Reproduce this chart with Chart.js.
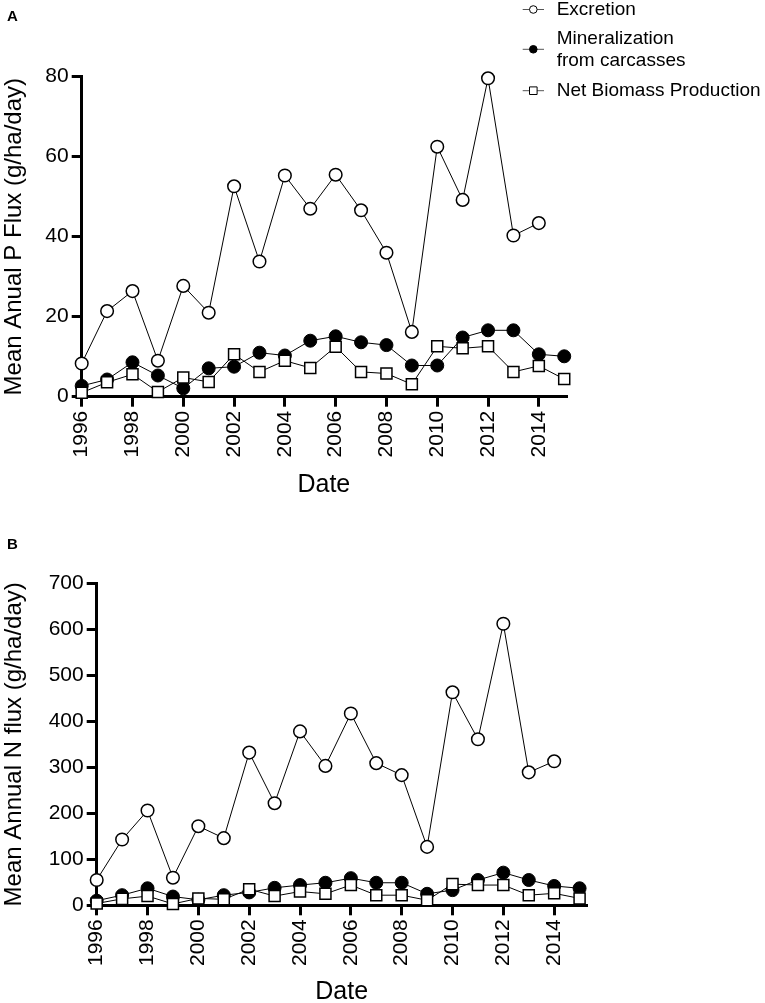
<!DOCTYPE html>
<html>
<head>
<meta charset="utf-8">
<script src="https://cdn.jsdelivr.net/npm/chart.js@4"></script>
<style>
  html, body { margin: 0; padding: 0; background: #fff; overflow: hidden; }
  canvas { position: absolute; left: 0; }
  #chartP { top: 0; }
  #chartN { top: 510px; }
</style>
</head>
<body>
<canvas id="chartP" width="765" height="510"></canvas>
<canvas id="chartN" width="765" height="520"></canvas>
<script>
// data
const years = [1996, 1997, 1998, 1999, 2000, 2001, 2002, 2003, 2004, 2005,
               2006, 2007, 2008, 2009, 2010, 2011, 2012, 2013, 2014, 2015];
const xTicks = [1996, 1998, 2000, 2002, 2004, 2006, 2008, 2010, 2012, 2014];

// panel A: phosphorus
const pExcretion = [8.3, 21.4, 26.4, 9.0, 27.7, 21.0, 52.6, 33.8, 55.3, 47.0,
                    55.5, 46.6, 36.0, 16.2, 62.5, 49.2, 79.6, 40.3, 43.4, null];
const pMineral   = [2.7, 4.3, 8.6, 5.3, 2.1, 7.1, 7.5, 11.0, 10.3, 14.0,
                    15.1, 13.6, 12.9, 7.8, 7.8, 14.8, 16.6, 16.6, 10.6, 10.1];
const pBiomass   = [1.0, 3.6, 5.6, 1.2, 4.8, 3.7, 10.6, 6.2, 9.0, 7.2,
                    12.5, 6.2, 5.8, 3.1, 12.6, 12.1, 12.6, 6.2, 7.7, 4.4];
const pTicks = [0, 20, 40, 60, 80];

// panel B: nitrogen
const nExcretion = [55, 143, 206, 60, 172, 146, 332, 222, 378, 303,
                    417, 309, 283, 127, 463, 361, 612, 289, 313, null];
const nMineral   = [10, 22, 37, 19, 12, 22, 28, 38, 44, 49,
                    59, 49, 49, 25, 33, 55, 71, 55, 42, 37];
const nBiomass   = [4, 14, 20, 3, 15, 13, 35, 20, 30, 25,
                    44, 22, 22, 11, 46, 44, 44, 22, 26, 15];
const nTicks = [0, 100, 200, 300, 400, 500, 600, 700];

const seriesNames = ['Excretion', 'Mineralization\nfrom carcasses', 'Net Biomass Production'];

const FONT = '"Liberation Sans", Arial, Helvetica, sans-serif';
Chart.defaults.font.family = FONT;
Chart.defaults.color = '#000';

function pts(vals) {
  return years.map((yr, i) => ({ x: yr, y: vals[i] }));
}

const styles = [
  { pointStyle: 'circle', pointRadius: 6.3, pointBackgroundColor: '#fff', pointBorderWidth: 1.5, order: 1 },
  { pointStyle: 'circle', pointRadius: 6.5, pointBackgroundColor: '#000', pointBorderWidth: 1, order: 3 },
  { pointStyle: 'rect', pointRadius: 7.8, pointBackgroundColor: '#fff', pointBorderWidth: 1.5, order: 2 }
];

function makeDatasets(series) {
  return series.map((vals, i) => Object.assign({
    label: seriesNames[i],
    data: pts(vals),
    borderColor: '#000',
    borderWidth: 1,
    pointBorderColor: '#000',
    pointHoverRadius: 0,
    clip: false
  }, styles[i]));
}

// legend and panel letter, drawn on the canvas
const legendPlugin = {
  id: 'legendPlugin',
  afterDraw(chart, args, opts) {
    const ctx = chart.ctx;
    ctx.save();
    ctx.font = 'bold 15px ' + FONT;
    ctx.fillStyle = '#000';
    ctx.textBaseline = 'middle';
    ctx.textAlign = 'left';
    ctx.fillText(opts.letter, 7, opts.letterY);
    if (opts.showLegend) {
      const rows = [
        { sym: 9.5, lines: [[seriesNames[0], 9.7]] },
        { sym: 49.3, lines: [['Mineralization', 38.3], ['from carcasses', 60.5]] },
        { sym: 90.7, lines: [[seriesNames[2], 90.7]] }
      ];
      rows.forEach((r, i) => {
        ctx.strokeStyle = '#555';
        ctx.lineWidth = 1;
        ctx.beginPath();
        ctx.moveTo(522.7, r.sym);
        ctx.lineTo(544, r.sym);
        ctx.stroke();
        ctx.strokeStyle = '#000';
        ctx.fillStyle = i === 1 ? '#000' : '#fff';
        ctx.beginPath();
        if (i === 2) ctx.rect(529.5, r.sym - 3.8, 7.6, 7.6);
        else ctx.arc(533.3, r.sym, 3.8, 0, Math.PI * 2);
        ctx.fill();
        ctx.stroke();
        ctx.fillStyle = '#000';
        ctx.font = '19px ' + FONT;
        r.lines.forEach(([t, y]) => ctx.fillText(t, 556.7, y));
      });
    }
    ctx.restore();
  }
};

function makeChart(id, cfg) {
  return new Chart(document.getElementById(id), {
    type: 'line',
    data: { datasets: makeDatasets(cfg.series) },
    plugins: [legendPlugin],
    options: {
      responsive: false,
      animation: false,
      events: [],
      layout: { padding: cfg.padding },
      plugins: {
        legend: { display: false },
        tooltip: { enabled: false },
        legendPlugin: { letter: cfg.letter, letterY: cfg.letterY, showLegend: cfg.showLegend }
      },
      scales: {
        x: {
          type: 'linear',
          min: 1996,
          max: cfg.xMax,
          afterBuildTicks: s => { s.ticks = xTicks.map(v => ({ value: v })); },
          afterFit: s => { s.height = cfg.xHeight; },
          ticks: {
            autoSkip: false,
            minRotation: 90,
            maxRotation: 90,
            padding: 4,
            font: { size: 21 },
            callback: v => String(v)
          },
          grid: { drawOnChartArea: false, drawTicks: true, tickLength: 10, lineWidth: 3, color: '#000' },
          border: { display: true, width: 3, color: '#000' },
          title: { display: true, text: 'Date', font: { size: 25 }, padding: { top: 0, bottom: cfg.dateBottom } }
        },
        y: {
          min: cfg.yTicks[0],
          max: cfg.yTicks[cfg.yTicks.length - 1],
          afterBuildTicks: s => { s.ticks = cfg.yTicks.map(v => ({ value: v })); },
          afterFit: s => { s.width = cfg.yWidth; },
          ticks: { padding: 3, font: { size: 21 } },
          grid: { drawOnChartArea: false, drawTicks: true, tickLength: 10, lineWidth: 3, color: '#000' },
          border: { display: true, width: 3, color: '#000' },
          title: { display: true, text: cfg.yTitle, font: { size: 24 }, padding: { top: 0, bottom: 0 } }
        }
      }
    }
  });
}

makeChart('chartP', {
  series: [pExcretion, pMineral, pBiomass],
  yTicks: pTicks,
  yTitle: 'Mean Anual P Flux (g/ha/day)',
  xMax: 2015.07,
  padding: { left: 0, top: 76.7, right: 199, bottom: 0 },
  yWidth: 81.7,
  xHeight: 113.3,
  dateBottom: 10,
  letter: 'A',
  letterY: 17,
  showLegend: true
});

makeChart('chartN', {
  series: [nExcretion, nMineral, nBiomass],
  yTicks: nTicks,
  yTitle: 'Mean Annual N flux (g/ha/day)',
  xMax: 2015.28,
  padding: { left: 0, top: 73.3, right: 178.3, bottom: 0 },
  yWidth: 96.7,
  xHeight: 124.7,
  dateBottom: 23,
  letter: 'B',
  letterY: 35,
  showLegend: false
});
</script>
</body>
</html>
